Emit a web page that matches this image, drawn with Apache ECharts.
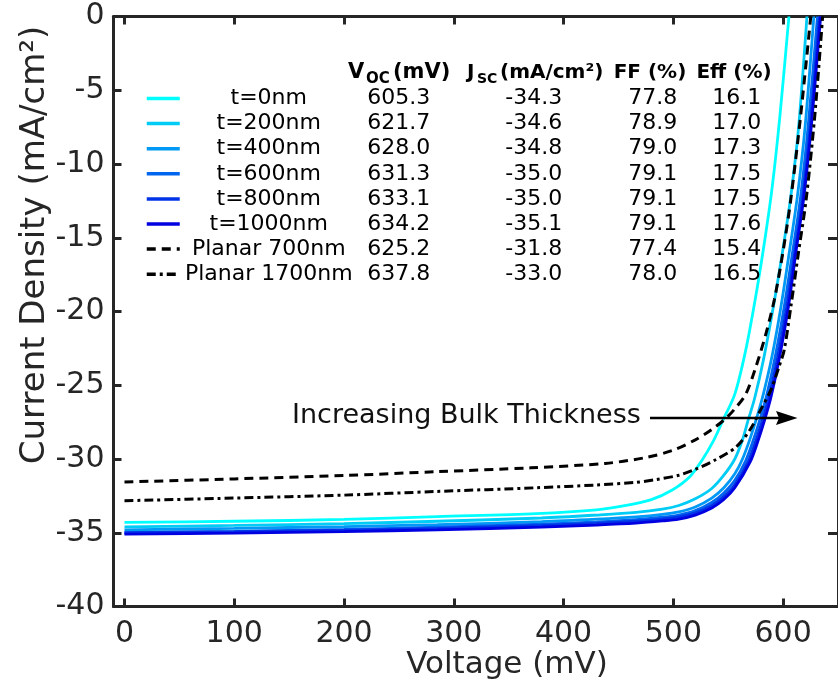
<!DOCTYPE html>
<html><head><meta charset="utf-8">
<script src="https://cdn.jsdelivr.net/npm/echarts@6/dist/echarts.min.js"></script>
<style>html,body{margin:0;padding:0;background:#fff}#c{width:838px;height:693px}</style>
</head><body><div id="c"></div>
<script>
// ---- data ----
const seriesNames = ['t=0nm','t=200nm','t=400nm','t=600nm','t=800nm','t=1000nm','Planar 700nm','Planar 1700nm'];
const vocValues = [605.3, 621.7, 628.0, 631.3, 633.1, 634.2, 625.2, 637.8];
const jscValues = [-34.3, -34.6, -34.8, -35.0, -35.0, -35.1, -31.8, -33.0];
const ffValues  = [77.8, 78.9, 79.0, 79.1, 79.1, 79.1, 77.4, 78.0];
const effValues = [16.1, 17.0, 17.3, 17.5, 17.5, 17.6, 15.4, 16.5];
const xTicks = [0, 100, 200, 300, 400, 500, 600];

const t0nm = [[0,-34.3],[100,-34.22],[200,-34.1],[285,-33.9],[375,-33.7],[430,-33.45],[457,-33.15],[480,-32.75],[499,-32.1],[515,-31.2],[526,-30.1],[537,-28.7],[545,-27.4],[556,-25.6],[566,-22.6],[575,-19.0],[583,-15.3],[590,-11.6],[597,-6.8],[605.3,0]];
const t200nm = [[0,-34.6],[100,-34.5],[200,-34.38],[285,-34.22],[380,-34.0],[430,-33.8],[466,-33.62],[490,-33.4],[505,-33.15],[520,-32.7],[535,-32.0],[546,-31.1],[556,-30.0],[563,-28.7],[568,-27.4],[574,-25.9],[582,-23.3],[592,-19.3],[600,-15.7],[607,-12.2],[614,-7.6],[621.7,0]];
const t400nm = [[0,-34.8],[100,-34.7],[200,-34.58],[285,-34.45],[380,-34.25],[430,-34.08],[466,-33.92],[490,-33.75],[505,-33.58],[520,-33.25],[535,-32.65],[546,-31.95],[556,-31.0],[563,-30.0],[570,-28.6],[576,-27.2],[582,-25.6],[590,-23.0],[598,-19.7],[606,-15.8],[613,-12.2],[620,-7.5],[628,0]];
const t600nm = [[0,-35.0],[100,-34.9],[200,-34.78],[285,-34.62],[380,-34.42],[430,-34.27],[466,-34.12],[490,-33.95],[505,-33.8],[520,-33.5],[535,-32.95],[546,-32.3],[556,-31.45],[566,-30.1],[573,-28.7],[579,-27.3],[585,-25.7],[593,-23.0],[601,-19.7],[609,-15.8],[616,-12.2],[623,-7.3],[631.3,0]];
const t800nm = [[0,-35.0],[100,-34.92],[200,-34.82],[285,-34.7],[380,-34.5],[430,-34.36],[466,-34.22],[490,-34.07],[505,-33.93],[520,-33.65],[535,-33.15],[546,-32.55],[556,-31.75],[568,-30.2],[575,-28.8],[581,-27.4],[587,-25.8],[595,-23.1],[603,-19.8],[611,-15.8],[618,-12.2],[625,-7.2],[633.1,0]];
const t1000nm = [[0,-35.1],[100,-35.02],[200,-34.92],[285,-34.8],[380,-34.62],[430,-34.48],[466,-34.35],[490,-34.2],[505,-34.07],[520,-33.8],[535,-33.32],[546,-32.75],[556,-31.95],[570,-30.2],[577,-28.8],[583,-27.4],[589,-25.8],[597,-23.0],[605,-19.6],[612,-15.8],[619,-12.2],[626,-7.2],[634.2,0]];
const planar700nm = [[0,-31.56],[100,-31.35],[200,-31.12],[285,-30.86],[370,-30.6],[438,-30.3],[475,-29.9],[500,-29.4],[520,-28.7],[535,-28.0],[547,-27.3],[556,-26.6],[566,-25.6],[575,-23.8],[584,-21.6],[592,-19.2],[600,-15.9],[607,-12.4],[616,-6.7],[625.2,0]];
const planar1700nm = [[0,-32.83],[100,-32.65],[200,-32.45],[285,-32.2],[375,-31.95],[430,-31.76],[466,-31.58],[484,-31.4],[505,-31.1],[520,-30.7],[538,-30.07],[557,-29.2],[570,-28.0],[580,-26.6],[589,-25.3],[596,-23.8],[601,-22.6],[607,-19.7],[614,-16.0],[621,-12.4],[629,-6.6],[636,0]];

const allData = [t0nm, t200nm, t400nm, t600nm, t800nm, t1000nm, planar700nm, planar1700nm];
const colors = ['#00FFFF','#00CCF5','#0099F5','#0066F0','#0033E8','#0000E0','#000000','#000000'];
const dashes = ['solid','solid','solid','solid','solid','solid',[9,6],[9,4,3,4]];

// ---- chart ----
const FONT = 'DejaVu Sans';
const AX = '#262626';
const chart = echarts.init(document.getElementById('c'), null, {renderer:'canvas'});

const series = seriesNames.map((n, i) => ({
  name: n, type: 'line', data: allData[i], showSymbol: false, symbol: 'none',
  smooth: 0.3, clip: true, z: 2 + i,
  lineStyle: { color: colors[i], width: i < 6 ? 2.8 : 3, type: dashes[i] },
  itemStyle: { color: colors[i] }
}));

const cell = (w) => ({ width: w, align: 'center', fontSize: 22, lineHeight: 22, fontFamily: FONT, color: '#000' });

const hdrBold = (text, x, y, size, align) => ({
  type: 'text', x: x, y: y, z: 100,
  style: { text: text, fontFamily: FONT, fontWeight: 'bold', fontSize: size, fill: '#000', align: align || 'left', verticalAlign: 'middle' }
});

chart.setOption({
  animation: false,
  backgroundColor: '#fff',
  grid: { left: 113.5, top: 16.5, width: 730, height: 590 },
  xAxis: [
    { type: 'value', position: 'bottom', min: -10, max: 650,
      axisLine: { show: true, onZero: false, lineStyle: { color: AX, width: 3 } },
      axisTick: { show: true, inside: true, length: 8, lineStyle: { color: AX, width: 3 }, customValues: xTicks },
      axisLabel: { show: true, customValues: xTicks, fontFamily: FONT, fontSize: 30, color: AX, margin: 13 },
      splitLine: { show: false } },
    { type: 'value', position: 'top', min: -10, max: 650,
      axisLine: { show: true, onZero: false, lineStyle: { color: AX, width: 3 } },
      axisTick: { show: true, inside: true, length: 8, lineStyle: { color: AX, width: 3 }, customValues: xTicks },
      axisLabel: { show: false },
      splitLine: { show: false } }
  ],
  yAxis: [
    { type: 'value', position: 'left', min: -40, max: 0, interval: 5,
      axisLine: { show: true, onZero: false, lineStyle: { color: AX, width: 3 } },
      axisTick: { show: true, inside: true, length: 8, lineStyle: { color: AX, width: 3 } },
      axisLabel: { fontFamily: FONT, fontSize: 30, color: AX, margin: 9 },
      splitLine: { show: false } },
    { type: 'value', position: 'right', min: -40, max: 0, interval: 5,
      axisLine: { show: true, onZero: false, lineStyle: { color: AX, width: 3 } },
      axisTick: { show: true, inside: true, length: 10, lineStyle: { color: AX, width: 3 } },
      axisLabel: { show: false },
      splitLine: { show: false } }
  ],
  legend: {
    orient: 'vertical', left: 140, top: 82.5, itemWidth: 33, itemHeight: 14, itemGap: 3.1,
    selectedMode: false, data: seriesNames,
    itemStyle: { color: 'rgba(0,0,0,0)', borderWidth: 0, opacity: 0 },
    lineStyle: { width: 3.5 },
    formatter: (name) => {
      const i = seriesNames.indexOf(name);
      return '{a|' + name + '}{b|' + vocValues[i].toFixed(1) + '}{c|' + jscValues[i].toFixed(1) +
             '}{d|' + ffValues[i].toFixed(1) + '}{e|' + effValues[i].toFixed(1) + '}';
    },
    textStyle: { fontFamily: FONT, fontSize: 22, color: '#000',
      rich: { a: cell(168), b: cell(92), c: cell(178), d: cell(60), e: cell(108) } }
  },
  graphic: [
    // table header
    hdrBold('V', 348, 73, 21),
    hdrBold('OC', 366, 79.5, 15),
    hdrBold('(mV)', 393, 73, 21),
    hdrBold('J', 467, 73, 20),
    hdrBold('SC', 477, 79.5, 14),
    hdrBold('(mA/cm²)', 500, 73, 20),
    hdrBold('FF (%)', 650, 73, 20, 'center'),
    hdrBold('Eff (%)', 734, 73, 20, 'center'),
    // axis titles
    { type: 'text', x: 507, y: 665, z: 100,
      style: { text: 'Voltage (mV)', fontFamily: FONT, fontSize: 31, fill: AX, align: 'center', verticalAlign: 'middle' } },
    { type: 'text', x: 35, y: 245, rotation: Math.PI / 2, z: 100,
      style: { text: 'Current Density (mA/cm²)', fontFamily: FONT, fontSize: 34, fill: AX, align: 'center', verticalAlign: 'middle' } },
    // annotation
    { type: 'text', x: 292, y: 416, z: 100,
      style: { text: 'Increasing Bulk Thickness', fontFamily: FONT, fontSize: 27, fill: '#111', align: 'left', verticalAlign: 'middle' } },
    { type: 'line', z: 100, shape: { x1: 650, y1: 418, x2: 782, y2: 418 }, style: { stroke: '#000', lineWidth: 2.5 } },
    { type: 'polygon', z: 100, shape: { points: [[797.5, 418], [776, 411], [779, 418], [776, 425]] }, style: { fill: '#000' } }
  ],
  series: series
});
</script></body></html>
